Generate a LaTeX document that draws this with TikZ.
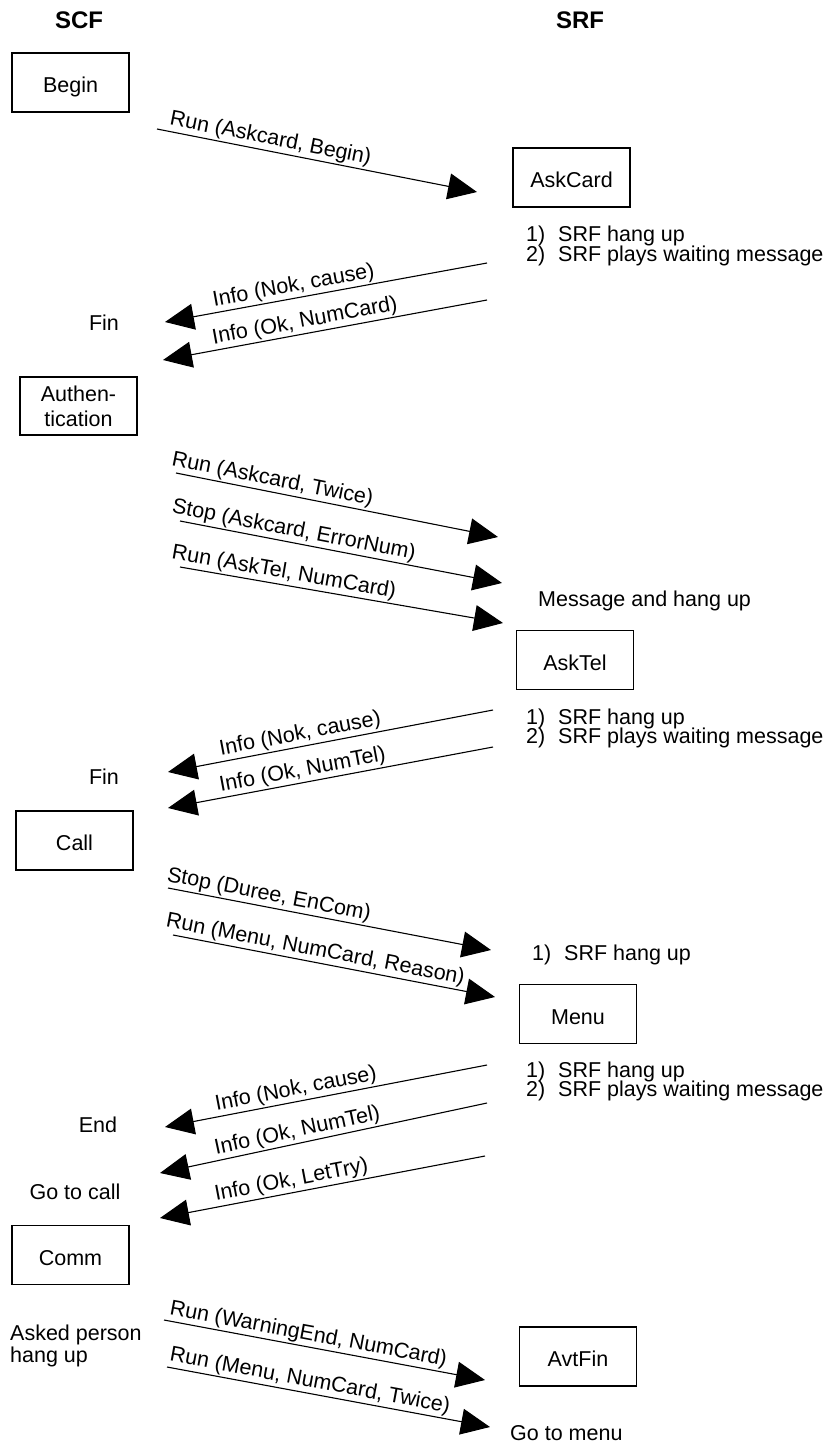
\documentclass[tikz,border=0pt]{standalone}
\usepackage{fontspec}
\setmainfont{Liberation Sans}
\usetikzlibrary{arrows.meta}
\begin{document}
\begin{tikzpicture}[x=1pt,y=-1pt,
  txt/.style={font=\fontsize{21.5}{25}\selectfont, inner sep=0pt},
  box/.style={draw, line width=1.1pt, minimum width=117pt, minimum height=59pt, inner sep=0pt, font=\fontsize{21.5}{25}\selectfont},
  boxt/.style={box, text height=20.5pt, text depth=0pt},
  hdr/.style={font=\fontsize{24}{28}\selectfont\bfseries, inner sep=0pt, anchor=base},
  msg/.style={line width=1.1pt, -{Triangle[length=29pt,width=26pt]}},
  rmsg/.style={line width=1.1pt, {Triangle[length=29pt,width=26pt]}-},
  mlbl/.style={font=\fontsize{21.5}{25}\selectfont, sloped, anchor=south west, inner sep=1.5pt},
]
\useasboundingbox (0,0) rectangle (840,1452);

% headers
\node[hdr] (scf) at (79,28.5) {SCF};
\node[hdr] (srf) at (580,28.5) {SRF};

% boxes
\node[boxt] (begin) at (70.5,82.5) {Begin};
\node[boxt] (askcard) at (571.5,177.5) {AskCard};
\node[box, minimum height=58pt, align=center, font=\fontsize{21.5}{25}\selectfont] (auth) at (78.5,406) {Authen-\\tication};
\node[boxt] (asktel) at (575,660) {AskTel};
\node[boxt] (call) at (74.5,840.5) {Call};
\node[boxt] (menu) at (578,1014) {Menu};
\node[boxt] (comm) at (70.5,1255) {Comm};
\node[boxt] (avtfin) at (578,1356.5) {AvtFin};

% free texts
\node[txt, anchor=base] (fin1) at (104,330) {Fin};
\node[txt, anchor=base] (fin2) at (104,784) {Fin};
\node[txt, anchor=base] (end) at (98,1132) {End};
\node[txt, anchor=base] (gotocall) at (75,1199) {Go to call};
\node[txt, anchor=base west] (asked1) at (10,1340) {Asked person};
\node[txt, anchor=base west] (asked2) at (10,1362) {hang up};

\node[txt, anchor=base west] (n1a) at (526,241) {\makebox[32pt][l]{1)}SRF hang up};
\node[txt, anchor=base west] (n1b) at (526,261) {\makebox[32pt][l]{2)}SRF plays waiting message};
\node[txt, anchor=base west] (msghang) at (538,606) {Message and hang up};
\node[txt, anchor=base west] (n2a) at (526,724) {\makebox[32pt][l]{1)}SRF hang up};
\node[txt, anchor=base west] (n2b) at (526,743) {\makebox[32pt][l]{2)}SRF plays waiting message};
\node[txt, anchor=base west] (n3) at (532,960) {\makebox[32pt][l]{1)}SRF hang up};
\node[txt, anchor=base west] (n4a) at (526,1077) {\makebox[32pt][l]{1)}SRF hang up};
\node[txt, anchor=base west] (n4b) at (526,1096) {\makebox[32pt][l]{2)}SRF plays waiting message};
\node[txt, anchor=base west] (gotomenu) at (510,1440) {Go to menu};

% connector end points
\coordinate (a1s) at (157,129);  \coordinate (a1e) at (477,192);
\coordinate (a2l) at (165,322);  \coordinate (a2r) at (487,263);
\coordinate (a3l) at (163,360);  \coordinate (a3r) at (487,300);
\coordinate (a4s) at (176,473);  \coordinate (a4e) at (498,537);
\coordinate (a5s) at (180,521);  \coordinate (a5e) at (502,583);
\coordinate (a6s) at (180,567);  \coordinate (a6e) at (503,623);
\coordinate (a7l) at (168,772);  \coordinate (a7r) at (493,710);
\coordinate (a8l) at (168,808);  \coordinate (a8r) at (493,747);
\coordinate (a9s) at (168,888);  \coordinate (a9e) at (491,950);
\coordinate (a10s) at (173,935); \coordinate (a10e) at (495,997);
\coordinate (a11l) at (165,1127); \coordinate (a11r) at (487,1065);
\coordinate (a12l) at (160,1173); \coordinate (a12r) at (487,1103);
\coordinate (a13l) at (160,1218); \coordinate (a13r) at (485,1156);
\coordinate (a14s) at (164,1320); \coordinate (a14e) at (485,1380);
\coordinate (a15s) at (167,1367); \coordinate (a15e) at (490,1427);

% messages
\draw[msg] (a1s) -- node[mlbl,pos=0.028] {Run (Askcard, Begin)} (a1e);
\draw[rmsg] (a2l) -- node[mlbl,pos=0.15] {Info (Nok, cause)} (a2r);
\draw[rmsg] (a3l) -- node[mlbl,pos=0.154] {Info (Ok, NumCard)} (a3r);
\draw[msg] (a4s) -- node[mlbl,pos=-0.025] {Run (Askcard, Twice)} (a4e);
\draw[msg] (a5s) -- node[mlbl,pos=-0.037] {Stop (Askcard, ErrorNum)} (a5e);
\draw[msg] (a6s) -- node[mlbl,pos=-0.037] {Run (AskTel, NumCard)} (a6e);
\draw[rmsg] (a7l) -- node[mlbl,pos=0.16] {Info (Nok, cause)} (a7r);
\draw[rmsg] (a8l) -- node[mlbl,pos=0.16] {Info (Ok, NumTel)} (a8r);
\draw[msg] (a9s) -- node[mlbl,pos=-0.015] {Stop (Duree, EnCom)} (a9e);
\draw[msg] (a10s) -- node[mlbl,pos=-0.034] {Run (Menu, NumCard, Reason)} (a10e);
\draw[rmsg] (a11l) -- node[mlbl,pos=0.158] {Info (Nok, cause)} (a11r);
\draw[rmsg] (a12l) -- node[mlbl,pos=0.17] {Info (Ok, NumTel)} (a12r);
\draw[rmsg] (a13l) -- node[mlbl,pos=0.17] {Info (Ok, LetTry)} (a13r);
\draw[msg] (a14s) -- node[mlbl,pos=0.006] {Run (WarningEnd, NumCard)} (a14e);
\draw[msg] (a15s) -- node[mlbl,pos=-0.003] {Run (Menu, NumCard, Twice)} (a15e);
\end{tikzpicture}
\end{document}
